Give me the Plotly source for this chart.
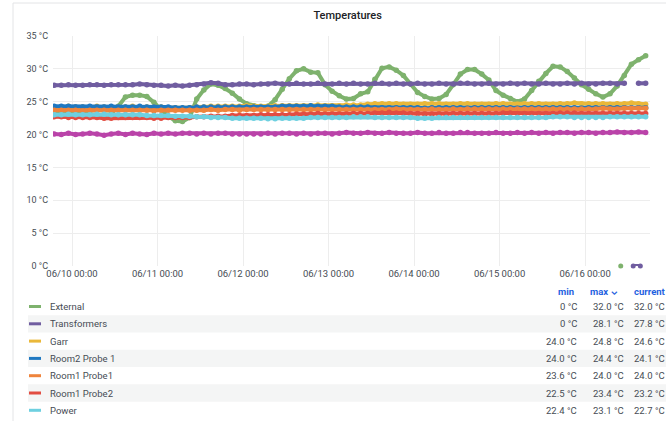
import pandas as pd
import plotly.graph_objects as go

# ---------------- data ----------------
start_time = "2021-06-09 19:00"
step = "2h"

external = [
    23.5, 23.4, 23.3, 23.2, 23.2, 23.1, 23.0, 23.0, 23.1, 24.3,
    25.7, 26.0, 26.0, 25.8, 24.9, 23.8, 22.8, 22.1, 22.0, 22.6,
    25.4, 26.8, 27.7, 27.5, 27.0, 26.3, 25.4, 24.7, 24.4, 24.2,
    24.3, 25.3, 26.9, 28.5, 29.7, 30.0, 29.5, 29.4, 27.6, 26.6,
    25.9, 25.4, 25.5, 26.2, 26.5, 28.4, 30.1, 30.3, 29.8, 29.0,
    27.7, 26.4, 25.8, 25.4, 25.5, 26.1, 27.6, 29.2, 29.9, 29.9,
    29.2, 28.3, 26.7, 26.0, 25.5, 25.0, 25.4, 26.7, 28.1, 29.3,
    30.4, 30.3, 29.6, 28.6, 27.6, 26.9, 26.2, 25.7, 26.2, 27.4,
    29.0, 30.7, 31.4, 32.0,
]
transformers = [
    27.5, 27.5, 27.6, 27.5, 27.5, 27.6, 27.6, 27.5, 27.6, 27.6,
    27.6, 27.6, 27.7, 27.6, 27.5, 27.5, 27.4, 27.5, 27.4, 27.5,
    27.6, 27.7, 27.9, 27.8, 27.6, 27.6, 27.7, 27.7, 27.6, 27.7,
    27.7, 27.8, 27.7, 27.7, 27.8, 27.7, 27.7, 27.8, 27.7, 27.7,
    27.8, 27.7, 27.8, 27.7, 27.7, 27.8, 27.8, 27.7, 27.8, 27.7,
    27.7, 27.8, 27.7, 27.7, 27.8, 27.7, 27.7, 27.8, 27.8, 27.7,
    27.7, 27.8, 27.7, 27.7, 27.8, 27.7, 27.8, 27.7, 27.7, 27.8,
    27.7, 27.7, 27.8, 27.7, 27.8, 27.7, 27.7, 27.8, 27.8, 27.7,
    27.8, None, 27.8, 27.8,
]
garr = [
    24.2, 24.2, 24.3, 24.2, 24.2, 24.2, 24.3, 24.2, 24.2, 24.2,
    24.2, 24.3, 24.2, 24.2, 24.2, 24.2, 24.1, 24.1, 24.0, 24.1,
    24.2, 24.2, 24.3, 24.3, 24.3, 24.3, 24.3, 24.4, 24.3, 24.3,
    24.3, 24.4, 24.4, 24.4, 24.4, 24.4, 24.4, 24.5, 24.4, 24.4,
    24.4, 24.5, 24.5, 24.5, 24.6, 24.7, 24.7, 24.7, 24.7, 24.6,
    24.6, 24.6, 24.7, 24.7, 24.7, 24.6, 24.6, 24.7, 24.7, 24.6,
    24.6, 24.6, 24.7, 24.7, 24.6, 24.6, 24.7, 24.7, 24.7, 24.6,
    24.6, 24.7, 24.7, 24.8, 24.7, 24.7, 24.7, 24.7, 24.6, 24.7,
    24.7, 24.8, 24.7, 24.6,
]
room2_probe1 = [
    24.3, 24.3, 24.3, 24.2, 24.2, 24.3, 24.2, 24.2, 24.3, 24.2,
    24.2, 24.2, 24.3, 24.2, 24.2, 24.2, 24.2, 24.1, 24.1, 24.1,
    24.2, 24.2, 24.2, 24.2, 24.2, 24.2, 24.2, 24.2, 24.2, 24.2,
    24.2, 24.2, 24.3, 24.3, 24.3, 24.3, 24.4, 24.3, 24.3, 24.3,
    24.2, 24.2, 24.2, 24.2, 24.2, 24.1, 24.1, 24.1, 24.1, 24.1,
    24.1, 24.1, 24.0, 24.1, 24.1, 24.1, 24.1, 24.1, 24.0, 24.1,
    24.1, 24.1, 24.1, 24.1, 24.1, 24.0, 24.1, 24.1, 24.1, 24.1,
    24.1, 24.1, 24.1, 24.1, 24.0, 24.1, 24.1, 24.1, 24.1, 24.1,
    24.1, 24.1, 24.1, 24.1,
]
room1_probe1 = [
    23.7, 23.7, 23.7, 23.7, 23.6, 23.7, 23.7, 23.7, 23.7, 23.7,
    23.7, 23.7, 23.7, 23.7, 23.6, 23.7, 23.7, 23.7, 23.7, 23.7,
    23.7, 23.7, 23.8, 23.7, 23.8, 23.8, 23.7, 23.8, 23.8, 23.8,
    23.8, 23.8, 23.8, 23.8, 23.8, 23.8, 23.8, 23.8, 23.8, 23.8,
    23.8, 23.8, 23.8, 23.8, 23.8, 23.8, 23.8, 23.8, 23.9, 23.8,
    23.8, 23.8, 23.8, 23.9, 23.8, 23.8, 23.9, 23.8, 23.9, 23.9,
    23.9, 23.9, 23.9, 23.9, 23.9, 23.9, 23.9, 23.9, 23.9, 23.9,
    23.9, 23.9, 23.9, 23.9, 23.9, 23.9, 23.9, 24.0, 23.9, 23.9,
    24.0, 24.0, 24.0, 24.0,
]
room1_probe2 = [
    22.7, 22.7, 22.6, 22.6, 22.6, 22.6, 22.6, 22.5, 22.5, 22.6,
    22.6, 22.6, 22.6, 22.6, 22.5, 22.5, 22.6, 22.6, 22.6, 22.6,
    22.7, 22.7, 22.8, 22.8, 22.8, 22.9, 22.9, 22.9, 22.9, 23.0,
    23.0, 23.0, 23.0, 23.0, 23.1, 23.1, 23.1, 23.2, 23.1, 23.1,
    23.1, 23.1, 23.2, 23.2, 23.2, 23.3, 23.3, 23.4, 23.3, 23.3,
    23.2, 23.2, 23.1, 23.1, 23.1, 23.1, 23.2, 23.2, 23.2, 23.2,
    23.2, 23.2, 23.2, 23.3, 23.3, 23.2, 23.2, 23.2, 23.2, 23.2,
    23.2, 23.3, 23.3, 23.3, 23.2, 23.2, 23.2, 23.2, 23.2, 23.2,
    23.2, 23.2, 23.2, 23.2,
]
power = [
    23.0, 23.0, 23.1, 23.0, 23.0, 23.0, 23.1, 23.1, 23.0, 23.0,
    23.0, 23.0, 23.0, 22.9, 22.9, 22.9, 22.9, 22.8, 22.8, 22.8,
    22.7, 22.7, 22.6, 22.6, 22.6, 22.5, 22.5, 22.5, 22.5, 22.5,
    22.4, 22.4, 22.5, 22.5, 22.5, 22.5, 22.6, 22.6, 22.6, 22.6,
    22.6, 22.6, 22.7, 22.7, 22.7, 22.6, 22.6, 22.6, 22.6, 22.6,
    22.6, 22.5, 22.5, 22.5, 22.6, 22.6, 22.6, 22.6, 22.6, 22.6,
    22.6, 22.6, 22.6, 22.6, 22.6, 22.6, 22.6, 22.6, 22.6, 22.6,
    22.7, 22.7, 22.7, 22.6, 22.6, 22.6, 22.6, 22.6, 22.7, 22.7,
    22.7, 22.7, 22.7, 22.7,
]
unlisted_probe = [
    20.1, 20.0, 20.2, 20.0, 20.1, 20.2, 20.1, 19.9, 20.1, 20.2,
    20.0, 20.2, 20.1, 20.0, 20.2, 20.1, 20.2, 20.1, 20.2, 20.2,
    20.1, 20.2, 20.1, 20.2, 20.2, 20.1, 20.1, 20.1, 20.1, 20.1,
    20.2, 20.1, 20.2, 20.2, 20.1, 20.2, 20.1, 20.2, 20.2, 20.1,
    20.2, 20.3, 20.2, 20.2, 20.3, 20.2, 20.2, 20.3, 20.2, 20.2,
    20.2, 20.3, 20.2, 20.2, 20.3, 20.2, 20.2, 20.3, 20.3, 20.2,
    20.2, 20.2, 20.3, 20.2, 20.2, 20.3, 20.2, 20.3, 20.2, 20.3,
    20.2, 20.3, 20.3, 20.2, 20.3, 20.3, 20.2, 20.3, 20.3, 20.4,
    20.3, 20.3, 20.4, 20.3,
]

# isolated zero readings near the end
external_zero_times = ["2021-06-16 10:00"]
external_zero_values = [0]
transformers_zero_times = ["2021-06-16 13:30", "2021-06-16 15:30"]
transformers_zero_values = [0, 0]

series_names = ["External", "Transformers", "Garr", "Room2 Probe 1",
                "Room1 Probe1", "Room1 Probe2", "Power"]
series_colors = ["#7EB26D", "#705DA0", "#EAB839", "#1F78C1",
                 "#EF843C", "#E24D42", "#6ED0E0"]
extra_color = "#BA43A9"
stat_min = ["0 °C", "0 °C", "24.0 °C", "24.0 °C", "23.6 °C", "22.5 °C", "22.4 °C"]
stat_max = ["32.0 °C", "28.1 °C", "24.8 °C", "24.4 °C", "24.0 °C", "23.4 °C", "23.1 °C"]
stat_current = ["32.0 °C", "27.8 °C", "24.6 °C", "24.1 °C", "24.0 °C", "23.2 °C", "22.7 °C"]

# ---------------- figure ----------------
W, H = 666, 421
L, R, T, B = 53, 650, 36, 266  # plot area in pixels


def px(x):
    return (x - L) / (R - L)


def py(y):
    return (B - y) / (B - T)


all_series = [external, transformers, garr, room2_probe1,
              room1_probe1, room1_probe2, power]
times = pd.date_range(start_time, periods=len(external), freq=step)

LW, MS = 4, 5.5

fig = go.Figure()
for name, color, vals in zip(series_names, series_colors, all_series):
    fig.add_trace(go.Scatter(
        x=times, y=vals, name=name, mode="lines+markers",
        line=dict(color=color, width=LW),
        marker=dict(color=color, size=MS),
        connectgaps=False, showlegend=False,
    ))
fig.add_trace(go.Scatter(
    x=times, y=unlisted_probe, mode="lines+markers",
    line=dict(color=extra_color, width=LW),
    marker=dict(color=extra_color, size=MS), showlegend=False,
))
fig.add_trace(go.Scatter(
    x=pd.to_datetime(external_zero_times), y=external_zero_values,
    mode="markers", marker=dict(color=series_colors[0], size=5),
    showlegend=False, cliponaxis=False,
))
fig.add_trace(go.Scatter(
    x=pd.to_datetime(transformers_zero_times), y=transformers_zero_values,
    mode="lines+markers", line=dict(color=series_colors[1], width=4),
    marker=dict(color=series_colors[1], size=5), showlegend=False,
    cliponaxis=False,
))

font_family = "Roboto, Inter, sans-serif"
text_col = "#464c54"

fig.update_layout(
    width=W, height=H,
    margin=dict(l=L, r=W - R, t=T, b=H - B),
    paper_bgcolor="white", plot_bgcolor="white",
    font=dict(family=font_family, size=9, color=text_col),
    title=dict(text="Temperatures", x=0.522, xanchor="center", y=1 - 15 / H,
               yanchor="middle",
               font=dict(family=font_family, size=11, color="#202226",
                         weight=500)),
    showlegend=False,
    xaxis=dict(
        type="date",
        range=["2021-06-09 18:40", "2021-06-16 18:13"],
        tickformat="%m/%d %H:%M", dtick=86400000, tick0="2021-06-10",
        showgrid=True, gridcolor="#ededed", gridwidth=1,
        showline=False, zeroline=False, ticks="",
        tickfont=dict(size=9.5, color=text_col),
    ),
    yaxis=dict(
        range=[0, 35], dtick=5, ticksuffix=" °C",
        showgrid=True, gridcolor="#ededed", gridwidth=1,
        showline=False, zeroline=False, ticks="",
        ticklabelstandoff=4,
        tickfont=dict(size=9, color=text_col),
    ),
)

shapes = []
# panel border
shapes.append(dict(type="line", xref="paper", yref="paper",
                   x0=px(13), x1=px(13), y0=py(3), y1=py(421),
                   line=dict(color="#e3e4e6", width=1)))
shapes.append(dict(type="line", xref="paper", yref="paper",
                   x0=px(13), x1=px(666), y0=py(3), y1=py(3),
                   line=dict(color="#e3e4e6", width=1)))

annotations = []
# table header
header_y = 291
for label, xpos in [("min", 556), ("max ⌄", 588), ("current", 632)]:
    annotations.append(dict(
        text=f"<b>{label}</b>", xref="paper", yref="paper",
        x=px(xpos), y=py(header_y), xanchor="left", yanchor="middle",
        showarrow=False, font=dict(size=9.5, color="#1f62e0", family=font_family)))

row_y0, row_h = 306.5, 17.3
for i, name in enumerate(series_names):
    yc = row_y0 + i * row_h
    if i % 2 == 1:
        shapes.append(dict(type="rect", xref="paper", yref="paper",
                           x0=px(28), x1=px(666), y0=py(yc - row_h / 2),
                           y1=py(yc + row_h / 2),
                           fillcolor="#f4f5f5", line=dict(width=0), layer="below"))
    shapes.append(dict(type="line", xref="paper", yref="paper",
                       x0=px(29), x1=px(41), y0=py(yc), y1=py(yc),
                       line=dict(color=series_colors[i], width=3)))
    annotations.append(dict(
        text=name, xref="paper", yref="paper", x=px(48), y=py(yc),
        xanchor="left", yanchor="middle", showarrow=False,
        font=dict(size=9.5, color=text_col, family=font_family)))
    annotations.append(dict(
        text=stat_min[i], xref="paper", yref="paper", x=px(579), y=py(yc),
        xanchor="right", yanchor="middle", showarrow=False,
        font=dict(size=9.5, color=text_col, family=font_family)))
    annotations.append(dict(
        text=stat_max[i], xref="paper", yref="paper", x=px(626), y=py(yc),
        xanchor="right", yanchor="middle", showarrow=False,
        font=dict(size=9.5, color=text_col, family=font_family)))
    annotations.append(dict(
        text=stat_current[i], xref="paper", yref="paper", x=px(632), y=py(yc),
        xanchor="left", yanchor="middle", showarrow=False,
        font=dict(size=9.5, color=text_col, family=font_family)))

fig.update_layout(shapes=shapes, annotations=annotations)
fig.write_html(
    "out.html",
    config={"displayModeBar": False},
    post_script="document.body.style.margin='0px';document.body.style.padding='0px';",
)
